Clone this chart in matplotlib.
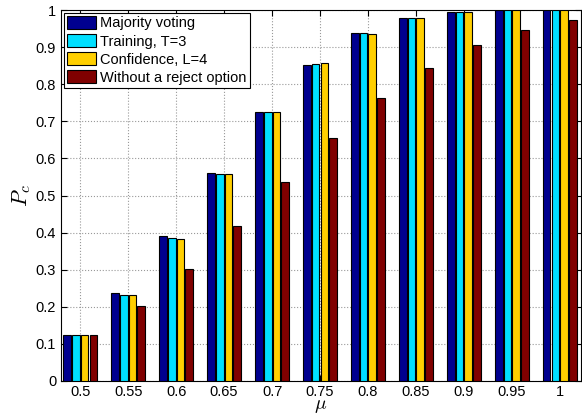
import numpy as np
from matplotlib import pyplot as plt

mu_labels = ['0.5', '0.55', '0.6', '0.65', '0.7', '0.75', '0.8', '0.85', '0.9', '0.95', '1']
majority = [0.125, 0.238, 0.390, 0.561, 0.726, 0.853, 0.938, 0.979, 0.994, 1.0, 1.0]
training = [0.125, 0.233, 0.385, 0.559, 0.725, 0.855, 0.937, 0.978, 0.994, 1.0, 1.0]
confidence = [0.125, 0.233, 0.384, 0.558, 0.724, 0.856, 0.936, 0.978, 0.994, 1.0, 1.0]
no_reject = [0.125, 0.201, 0.302, 0.418, 0.537, 0.656, 0.762, 0.843, 0.905, 0.947, 0.972]

series = [majority, training, confidence, no_reject]
names = ['Majority voting', 'Training, T=3', 'Confidence, L=4', 'Without a reject option']
colors = ['#00008F', '#00DFFF', '#FFCF00', '#800000']

plt.rcParams['font.family'] = ['Liberation Sans', 'DejaVu Sans']
plt.rcParams['mathtext.fontset'] = 'cm'

fig = plt.figure(figsize=(5.82, 4.2), dpi=100)
ax = fig.add_axes([0.105, 0.093, 0.893, 0.883])

x = np.arange(len(mu_labels))
step = 0.182
width = 0.16
for k, (vals, name, c) in enumerate(zip(series, names, colors)):
    ax.bar(x + (k - 1.5) * step, vals, width, color=c, edgecolor='black',
           linewidth=0.8, label=name, zorder=3)

ax.set_xlim(-0.4, 10.44)
ax.set_ylim(0, 1)
ax.set_xticks(x)
ax.set_xticklabels(mu_labels)
ax.set_yticks(np.arange(0, 1.01, 0.1))
ax.set_yticklabels(['0', '0.1', '0.2', '0.3', '0.4', '0.5', '0.6', '0.7', '0.8', '0.9', '1'])
ax.tick_params(direction='in', top=True, right=True, labelsize=10.5, length=4)
ax.tick_params(axis='x', pad=3)
ax.grid(True, linestyle=':', color='#999999', linewidth=0.8, zorder=0)
ax.set_axisbelow(True)

ax.set_ylabel('$P_c$', fontsize=16, labelpad=2)
ax.set_xlabel(r'$\mu$', fontsize=14, labelpad=-1)

leg = ax.legend(loc='upper left', fontsize=10.5, fancybox=False, framealpha=1,
                edgecolor='black', borderpad=0.2, labelspacing=0.25,
                handlelength=2.0, handleheight=1.0, handletextpad=0.3,
                borderaxespad=0.2)
leg.get_frame().set_linewidth(0.8)

plt.savefig('out.png')
